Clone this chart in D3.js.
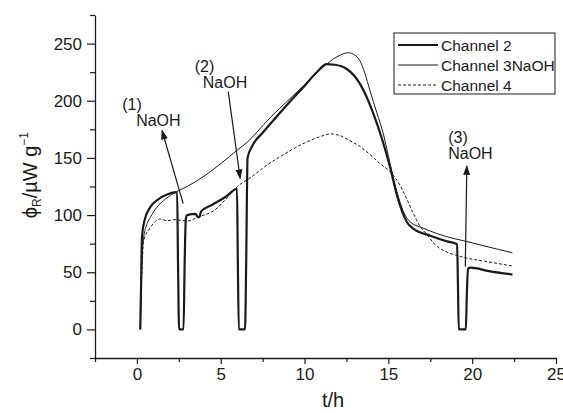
<!DOCTYPE html>
<html>
<head>
<meta charset="utf-8">
<script src="https://cdn.jsdelivr.net/npm/d3@7"></script>
<style>
  body { margin: 0; background: #fff; }
  svg { display: block; font-family: "Liberation Sans", Arial, sans-serif; }
</style>
</head>
<body>
<div class="chart-div"></div>
<script>
// series data (t in h, phi in uW/g)
var ch2T = [0.2, 0.25, 0.3, 0.45, 0.8, 1.3, 1.8, 2.4, 2.45, 2.52, 2.78, 2.85, 2.92, 3.0, 3.5, 3.65, 3.75, 3.82, 4.5, 5.3, 5.97, 6.02, 6.08, 6.45, 6.52, 6.6, 6.9, 7.5, 8.75, 10, 10.8, 11.3, 11.8, 12.5, 13.3, 14.1, 15.1, 15.5, 16.1, 16.5, 17.5, 18.5, 19.1, 19.15, 19.2, 19.62, 19.68, 19.75, 19.9, 21, 22.4];
var ch2V = [0, 40, 80, 95, 107, 114, 118, 120, 60, 0, 0, 60, 97, 100, 101, 98, 99, 103, 109, 116, 123, 60, 0, 0, 60, 150, 161, 172, 193, 213, 226, 232, 231.5, 228, 215, 189, 142, 118, 94, 88, 82, 77, 74.5, 40, 0, 0, 30, 53, 54, 51, 48];
var ch3T = [0.2, 0.3, 0.4, 0.55, 0.8, 1.2, 1.7, 2.3, 3, 4, 5, 6, 6.6, 7, 8, 9, 10, 11, 12, 12.6, 13, 13.3, 13.6, 13.9, 14.3, 14.7, 15.1, 15.5, 15.9, 16.3, 17, 17.5, 18.5, 19.5, 21, 22.4];
var ch3V = [0, 60, 80, 90, 98, 107, 114, 120, 125, 134, 145, 157, 164, 170, 186, 200, 214, 228, 239, 242, 240, 235, 224, 209, 190, 171, 145, 121, 103, 94, 89, 86, 81, 77.5, 72, 67];
var ch4T = [0.2, 0.3, 0.4, 0.8, 1.4, 1.8, 2.2, 2.6, 3.1, 3.6, 4.6, 5.5, 6, 6.8, 7.5, 8.75, 10, 11, 11.5, 12.2, 12.7, 13.3, 13.9, 14.5, 15.1, 15.7, 16.1, 16.5, 16.9, 17.3, 17.8, 18.3, 19, 19.5, 21, 22.4];
var ch4V = [0, 50, 77, 89, 96.5, 95, 96, 95.5, 95, 98, 104, 117, 125, 133, 141, 153, 163, 169, 171, 169, 165, 160, 153, 145, 138, 126, 114, 101, 90, 83, 74, 69, 65, 63, 59, 55.5];

var seriesNames = ["Channel 2", "Channel 3NaOH", "Channel 4"];
var xTicks = [0, 5, 10, 15, 20, 25];
var yTicks = [0, 50, 100, 150, 200, 250];

// NaOH additions: label position and arrow tail/head, in data units
var noteNums = ["(1)", "(2)", "(3)"];
var noteLabelT = [-0.88, 3.45, 18.57];
var noteLabelV = [192, 225, 163];
var arrowFromT = [2.76, 5.45, 19.59];
var arrowFromV = [110, 208, 55];
var arrowToT = [1.5, 6.16, 19.68];
var arrowToV = [174, 132, 143];

var width = 563, height = 413;
var margin = {top: 15, right: 7, bottom: 55, left: 95};

var svg = d3.select(".chart-div").append("svg")
    .attr("width", width)
    .attr("height", height);

var x = d3.scaleLinear().domain([-2.5, 25]).range([margin.left, width - margin.right]);
var y = d3.scaleLinear().domain([-25, 275]).range([height - margin.bottom, margin.top]);

var ink = "#1a1a1a";

//arrow marker
svg.append("defs").append("marker")
    .attr("id", "head")
    .attr("viewBox", "0 0 10 10")
    .attr("refX", 9).attr("refY", 5)
    .attr("markerWidth", 10).attr("markerHeight", 10)
    .attr("markerUnits", "userSpaceOnUse")
    .attr("orient", "auto")
  .append("path")
    .attr("d", "M0,1.5 L10,5 L0,8.5 Z")
    .attr("fill", ink);

//axes
var xAxis = d3.axisBottom(x).tickValues(d3.range(-2.5, 25.1, 2.5)).tickSizeOuter(0)
    .tickFormat(function(d) { return xTicks.indexOf(d) >= 0 ? d : ""; });
var gx = svg.append("g")
    .attr("transform", "translate(0," + y(-25) + ")")
    .call(xAxis);
gx.selectAll(".tick line").attr("y2", function(d) { return xTicks.indexOf(d) >= 0 ? 6 : 4; });
gx.selectAll(".tick text").attr("y", 10);

var yAxis = d3.axisLeft(y).tickValues(d3.range(-25, 276, 25)).tickSizeOuter(0)
    .tickFormat(function(d) { return yTicks.indexOf(d) >= 0 ? d : ""; });
var gy = svg.append("g")
    .attr("transform", "translate(" + x(-2.5) + ",0)")
    .call(yAxis);
gy.selectAll(".tick line").attr("x2", function(d) { return yTicks.indexOf(d) >= 0 ? -8 : -5; });
gy.selectAll(".tick text").attr("x", -13);

svg.selectAll(".domain").attr("stroke", ink).attr("stroke-width", 1.3);
svg.selectAll(".tick line").attr("stroke", ink).attr("stroke-width", 1.2);
svg.selectAll(".tick text")
    .attr("font-family", "Liberation Sans, Arial, sans-serif")
    .attr("font-size", "17px")
    .attr("fill", ink);

//axis titles
svg.append("text")
    .attr("x", x(11.7))
    .attr("y", 407)
    .attr("text-anchor", "middle")
    .attr("font-size", "20px")
    .attr("fill", ink)
    .text("t/h");

var yTitle = svg.append("text")
    .attr("transform", "translate(37," + y(135) + ") rotate(-90)")
    .attr("text-anchor", "middle")
    .attr("font-size", "20px")
    .attr("fill", ink);
yTitle.append("tspan").text("\u03D5");
yTitle.append("tspan").attr("font-size", "12px").attr("dy", 4).text("R");
yTitle.append("tspan").attr("dy", -4).text("/\u00B5W g");
yTitle.append("tspan").attr("font-size", "12px").attr("dy", -9).text("\u22121");

//lines
var line = d3.line()
    .curve(d3.curveMonotoneX)
    .x(function(d) { return x(d[0]); })
    .y(function(d) { return y(d[1]); });

function pairs(ts, vs) { return ts.map(function(t, i) { return [t, vs[i]]; }); }

var styles = [
    {w: 2.2, dash: null},
    {w: 1, dash: null},
    {w: 1, dash: "3,2"}
];
var allData = [pairs(ch2T, ch2V), pairs(ch3T, ch3V), pairs(ch4T, ch4V)];

allData.forEach(function(d, i) {
    svg.append("path")
        .datum(d)
        .attr("d", line)
        .attr("fill", "none")
        .attr("stroke", ink)
        .attr("stroke-width", styles[i].w)
        .attr("stroke-dasharray", styles[i].dash)
        .attr("stroke-linejoin", "round");
});

//NaOH notes with arrows
noteNums.forEach(function(n, i) {
    svg.append("text")
        .attr("x", x(noteLabelT[i]))
        .attr("y", y(noteLabelV[i]))
        .attr("font-size", "16px")
        .attr("fill", ink)
        .text(n);
    svg.append("text")
        .attr("x", x(noteLabelT[i]) + (i == 2 ? 0 : 14) - (i == 1 ? 6 : 0))
        .attr("y", y(noteLabelV[i]) + 16)
        .attr("font-size", "16px")
        .attr("fill", ink)
        .text("NaOH");
    svg.append("line")
        .attr("x1", x(arrowFromT[i]))
        .attr("y1", y(arrowFromV[i]))
        .attr("x2", x(arrowToT[i]))
        .attr("y2", y(arrowToV[i]))
        .attr("stroke", ink)
        .attr("stroke-width", 1.2)
        .attr("marker-end", "url(#head)");
});

//legend
var legend = svg.append("g").attr("transform", "translate(394,33)");
legend.append("rect")
    .attr("width", 161)
    .attr("height", 61)
    .attr("fill", "#fff")
    .attr("stroke", ink)
    .attr("stroke-width", 1);
seriesNames.forEach(function(name, i) {
    var ly = 12 + i * 20;
    legend.append("line")
        .attr("x1", 4).attr("x2", 44)
        .attr("y1", ly).attr("y2", ly)
        .attr("stroke", ink)
        .attr("stroke-width", styles[i].w)
        .attr("stroke-dasharray", styles[i].dash);
    legend.append("text")
        .attr("x", 47)
        .attr("y", ly + 5.5)
        .attr("font-size", "15.5px")
        .attr("fill", ink)
        .text(name);
});
</script>
</body>
</html>
